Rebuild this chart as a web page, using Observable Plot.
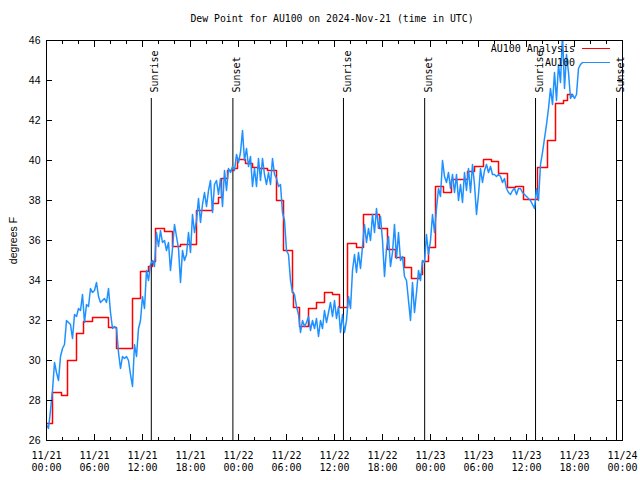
<!DOCTYPE html>
<html>
<head>
<meta charset="utf-8">
<script src="https://cdn.jsdelivr.net/npm/d3@7"></script>
<script src="https://cdn.jsdelivr.net/npm/@observablehq/plot@0.6"></script>
<style>
  html, body { margin: 0; padding: 0; background: #fff; }
  body { width: 640px; height: 480px; overflow: hidden; position: relative; }
  #title { height: 30px; box-sizing: border-box; padding-top: 13px; padding-left: 24px;
           text-align: center; font: 9.8px "DejaVu Sans Mono"; line-height: 12px; color: #000; }
  .lg { position: absolute; right: 30px; height: 12px; display: flex; align-items: center;
        font: 10px "DejaVu Sans Mono"; color: #000; }
  .lg i { display: inline-block; width: 28px; height: 1px; margin-left: 7px; }
</style>
</head>
<body>
<div id="title">Dew Point for AU100 on 2024-Nov-21 (time in UTC)</div>
<div id="chart"></div>
<div class="lg" style="top:42px"><span>AU100 Analysis</span><i style="background:#ff0000"></i></div>
<div class="lg" style="top:56px"><span>AU100</span><i style="background:#1e90ff"></i></div>
<script>
// Observed dew point (F), every 15 minutes from 2024-11-21 00:00 UTC
const obsValues = [
  26.8, 26.6, 27.5, 28.5,  29.9, 29.4, 29.0, 30.2,  30.6, 30.8, 32.0, 31.9,  31.8, 31.1, 32.3, 32.2,
  32.6, 32.5, 33.3, 31.9,  32.8, 32.7, 33.6, 33.4,  33.5, 33.9, 33.2, 32.9,  33.0, 33.1, 32.9, 33.6,
  32.4, 31.6, 31.7, 31.6,  30.4, 29.6, 30.2, 30.1,  30.2, 30.0, 29.3, 28.7,  30.8, 30.2, 31.6, 32.0,
  33.2, 32.6, 34.5, 34.0,  34.8, 35.0, 34.7, 36.4,  35.7, 36.5, 35.9, 36.0,  35.5, 35.9, 34.5, 35.6,
  36.8, 36.2, 35.6, 33.9,  35.5, 35.0, 35.3, 36.4,  35.4, 37.3, 36.4, 37.0,  38.1, 36.9, 37.8, 38.4,
  37.7, 38.5, 39.0, 37.4,  38.8, 39.0, 38.3, 39.1,  37.7, 39.5, 38.5, 39.6,  39.4, 39.7, 39.5, 40.3,
  39.9, 40.4, 41.5, 40.0,  40.6, 39.7, 40.2, 38.7,  39.6, 38.7, 40.1, 39.0,  40.1, 39.3, 38.8, 39.4,
  38.8, 40.1, 39.3, 39.1,  38.7, 38.8, 37.4, 37.0,  35.5, 35.3, 34.0, 33.4,  33.3, 32.7, 32.3, 31.4,
  32.0, 31.7, 31.9, 32.2,  31.5, 32.0, 31.6, 32.1,  31.2, 32.0, 31.6, 32.5,  31.9, 32.4, 32.9, 32.2,
  33.0, 32.1, 32.7, 31.4,  32.3, 31.4, 32.0, 33.2,  32.6, 34.5, 35.3, 34.4,  35.4, 34.6, 35.7, 36.8,
  35.9, 36.6, 36.0, 37.3,  36.4, 37.6, 36.6, 37.2,  36.0, 34.2, 35.6, 36.2,  34.7, 35.4, 36.8, 35.1,
  36.4, 35.0, 35.2, 34.2,  34.0, 33.0, 32.0, 33.9,  32.4, 33.4, 34.5, 34.0,  35.0, 34.9, 36.3, 35.3,
  36.0, 37.3, 36.4, 37.6,  38.6, 38.2, 40.0, 39.2,  38.9, 39.4, 38.6, 39.3,  38.4, 39.3, 38.0, 38.8,
  37.9, 39.4, 38.5, 39.6,  38.4, 39.8, 38.8, 37.3,  38.3, 39.6, 38.9, 39.5,  39.8, 39.4, 39.7, 39.3,
  39.3, 39.2, 39.3, 39.2,  38.9, 39.1, 38.6, 38.4,  38.3, 38.5, 38.6, 38.3,  38.6, 38.6, 38.4, 38.3,
  38.2, 38.1, 38.0, 37.8,  37.6, 38.6, 38.0, 39.8,  40.4, 41.1, 41.8, 42.6,  43.6, 42.8, 44.4, 43.0,
  44.8, 43.9, 46.3, 43.6,  45.3, 44.4, 43.1, 43.3,  43.1, 43.3, 44.6, 44.8,  44.9
];
// Analysis (step), hours after 2024-11-21 00:00 UTC and values (F)
const anaHours = [
  0, 0.75, 1.875, 2.625, 3.75, 4.625, 5.75, 7.75, 8.75, 10.75, 11.75, 12.75, 13.25, 13.625,
  14.75, 15.75, 16.75, 18.75, 20.75, 21.5, 21.875, 22.625, 23.375, 23.875, 24.875, 25.75,
  26.625, 27.625, 28.75, 29.625, 30.75, 30.875, 31.625, 32.75, 33.75, 34.75, 35.75, 36.625,
  37.625, 38.75, 39.625, 41.625, 42.625, 43.625, 44.75, 45.625, 46.625, 47.0, 47.75, 48.625,
  49.625, 50.625, 52.625, 53.5, 54.625, 55.625, 56.5, 57.625, 58.625, 59.625, 61.375, 62.625,
  63.625, 64.625, 65.125, 65.75
];
const anaValues = [
  26.85, 28.4, 28.25, 30.0, 31.35, 31.95, 32.15, 31.65, 30.6, 33.1, 34.45, 34.7, 34.95, 36.6,
  36.45, 35.7, 35.8, 37.5, 37.85, 38.15, 39.1, 39.5, 39.6, 40.05, 39.85, 39.65,
  39.6, 39.5, 38.0, 35.5, 33.4, 32.65, 31.7, 32.6, 32.9, 33.4, 33.3, 32.65,
  35.85, 35.65, 37.3, 36.6, 35.55, 35.15, 34.65, 34.1, 34.3, 34.95, 35.65, 38.7,
  38.4, 39.05, 39.45, 39.7, 40.05, 39.95, 39.35, 38.65, 38.7, 38.05, 39.65, 41.0,
  42.85, 43.0, 43.3, 43.3
];
// Sunrise / sunset, hours after start
const sunHours = [13.1, 23.3, 37.12, 47.27, 61.13, 71.25];
const sunLabels = ["Sunrise", "Sunset", "Sunrise", "Sunset", "Sunrise", "Sunset"];
// Ticks
const xMajorHours = [0, 6, 12, 18, 24, 30, 36, 42, 48, 54, 60, 66, 72];
const xMinorHours = d3.range(0, 73, 2);
const yTicks = [26, 28, 30, 32, 34, 36, 38, 40, 42, 44, 46];
const yDomain = [26, 46];

const t0 = Date.UTC(2024, 10, 21, 0, 0);
const HOUR = 3600e3;
const at = h => new Date(t0 + h * HOUR);

const obs = obsValues.map((v, i) => ({t: at(i * 0.25), v}));
const ana = anaHours.map((h, i) => ({t: at(h), v: anaValues[i]}));
const sun = sunHours.map((h, i) => ({t: at(h), label: sunLabels[i]}));
const xMajor = xMajorHours.map(at);
const xMinor = xMinorHours.map(at);
const fmt = d3.utcFormat("%m/%d\n%H:%M");
const blank = () => "";

const chart = Plot.plot({
  width: 640, height: 450,
  marginLeft: 46, marginRight: 18, marginTop: 10, marginBottom: 40,
  style: {fontFamily: "DejaVu Sans Mono", fontSize: "10px", background: "#fff", color: "#000"},
  x: {type: "utc", domain: [at(0), at(72)]},
  y: {domain: yDomain},
  marks: [
    Plot.ruleX(sun, {x: "t", insetTop: 58, stroke: "#000", strokeWidth: 1}),
    Plot.text(sun, {x: "t", text: "label", frameAnchor: "top", rotate: -90, textAnchor: "start",
                    dy: 52, fontSize: 10, fill: "#000"}),
    Plot.line(ana, {x: "t", y: "v", curve: "step-after", stroke: "#ff0000", strokeWidth: 1.5, clip: true}),
    Plot.line(obs, {x: "t", y: "v", stroke: "#1e90ff", strokeWidth: 1.5, clip: true}),
    Plot.frame({stroke: "#000"}),
    Plot.axisX({anchor: "bottom", ticks: xMajor, tickSize: 0, tickPadding: 10, tickFormat: fmt,
                lineHeight: 1.2, fontSize: 10, label: null}),
    Plot.axisX({anchor: "bottom", ticks: xMajor, tickSize: -6, tickFormat: blank, label: null}),
    Plot.axisX({anchor: "bottom", ticks: xMinor, tickSize: -3, tickFormat: blank, label: null}),
    Plot.axisX({anchor: "top", ticks: xMajor, tickSize: -6, tickFormat: blank, label: null}),
    Plot.axisX({anchor: "top", ticks: xMinor, tickSize: -3, tickFormat: blank, label: null}),
    Plot.axisY({anchor: "left", ticks: yTicks, tickSize: 0, tickPadding: 6, fontFamily: "Liberation Sans",
                fontSize: 10.5, label: "degrees F", labelAnchor: "center", labelArrow: "none", labelOffset: 37}),
    Plot.axisY({anchor: "left", ticks: yTicks, tickSize: -6, tickFormat: blank, label: null}),
    Plot.axisY({anchor: "right", ticks: yTicks, tickSize: -6, tickFormat: blank, label: null})
  ]
});
document.getElementById("chart").appendChild(chart);
</script>
</body>
</html>
